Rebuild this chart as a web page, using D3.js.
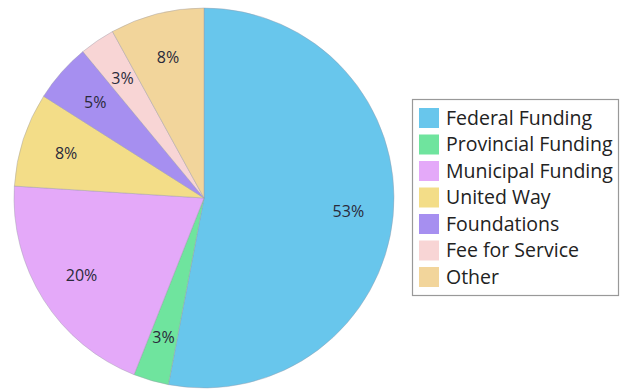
<!DOCTYPE html>
<html><head><meta charset="utf-8">
<script src="https://cdn.jsdelivr.net/npm/d3@7"></script>
<style>body{margin:0;background:#fff}svg{display:block}</style>
</head><body>
<svg id="c" width="620" height="392"></svg>
<script>
const categories = ["Federal Funding","Provincial Funding","Municipal Funding","United Way","Foundations","Fee for Service","Other"];
const values = [53,3,20,8,5,3,8];
const colors = ["#68c6ec","#6fe49e","#e4a9f9","#f3dd88","#a68ff0","#f8d5d5","#f2d59b"];

const svg = d3.select("#c");
const cx = 204, cy = 198, R = 190;
const pie = d3.pie().sort(null).value(d => d)(values);
const arc = d3.arc().innerRadius(0).outerRadius(R);
const labelArc = d3.arc().innerRadius(145).outerRadius(145);
const g = svg.append("g").attr("transform", `translate(${cx},${cy})`);
g.selectAll("path").data(pie).join("path")
  .attr("d", arc).attr("fill", (d,i) => colors[i])
  .attr("stroke", "#9a9aa8").attr("stroke-width", 0.6).attr("stroke-opacity", 0.7);
g.selectAll("text").data(pie).join("text")
  .attr("transform", d => `translate(${labelArc.centroid(d)})`)
  .attr("text-anchor","middle").attr("dy","0.35em")
  .attr("font-family","'Open Sans', sans-serif").attr("font-size",16)
  .attr("fill","#2a2a3a")
  .text(d => d.data + "%");

const leg = svg.append("g");
leg.append("rect").attr("x",412.5).attr("y",99.5).attr("width",206).attr("height",196)
  .attr("fill","#fff").attr("stroke","#999").attr("stroke-width",1.2);
const ly = d3.scalePoint().domain(categories).range([118, 277]);
const rows = leg.selectAll("g.r").data(categories).join("g").attr("class","r")
  .attr("transform", d => `translate(0,${ly(d)})`);
rows.append("rect").attr("x",419).attr("y",-10).attr("width",20).attr("height",20)
  .attr("fill",(d,i)=>colors[i]);
rows.append("text").attr("x",446).attr("dy","0.35em")
  .attr("font-family","'Open Sans', sans-serif").attr("font-size",19.5)
  .attr("fill","#222").text(d => d);
</script>
</body></html>
